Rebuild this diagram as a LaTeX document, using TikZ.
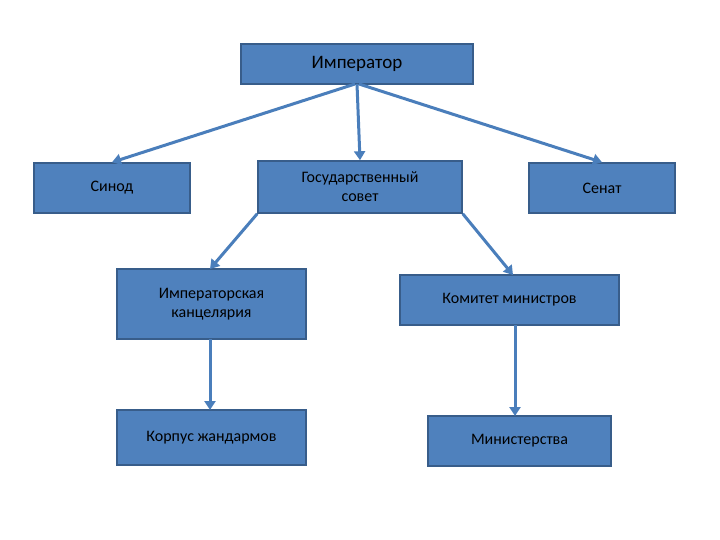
\documentclass[tikz,border=0pt]{standalone}
\usepackage{fontspec}
\setmainfont{Carlito}
\usetikzlibrary{arrows.meta}
\definecolor{bx}{HTML}{4F81BD}
\definecolor{ar}{HTML}{4A7EBB}
\definecolor{bd}{RGB}{56,93,138}
\begin{document}
\begin{tikzpicture}[x=1pt,y=-1pt,
  box/.style={draw=bd,fill=bx,line width=1.5pt,inner sep=0pt,align=center,font=\fontsize{16}{19}\selectfont},
  arr/.style={draw=ar,line width=3pt,-{Triangle[length=9pt,width=11pt]}}]
\useasboundingbox (0,0) rectangle (720,540);
\node[box,minimum width=232pt,minimum height=40pt,font=\fontsize{19}{22}\selectfont] (imp) at (357,64) {Император};
\node[box,minimum width=156pt,minimum height=50pt] (sin) at (112,188) {Синод};
\node[box,minimum width=204pt,minimum height=52pt] (gos) at (360,187) {Государственный\\совет};
\node[box,minimum width=146pt,minimum height=50pt] (sen) at (602,188) {Сенат};
\node[box,minimum width=189pt,minimum height=70pt] (kan) at (211.5,304) {Императорская\\канцелярия};
\node[box,minimum width=219pt,minimum height=50pt] (kom) at (509.5,300) {Комитет министров};
\node[box,minimum width=189pt,minimum height=55pt] (kor) at (211.5,437.5) {Корпус жандармов};
\node[box,minimum width=183pt,minimum height=50pt] (min) at (519.5,441) {Министерства};
\coordinate (o1) at (355,84);
\coordinate (o2) at (357,84);
\coordinate (o3) at (359,84);
\coordinate (kanT) at (210,269);
\coordinate (kanB) at (210,339);
\coordinate (korT) at (210,410);
\coordinate (komT) at (513,275);
\coordinate (komB) at (515,325);
\coordinate (minT) at (515,416);
\draw[arr] (o1) -- (sin.north);
\draw[arr] (o2) -- (gos.north);
\draw[arr] (o3) -- (sen.north);
\draw[arr] (gos.south west) -- (kanT);
\draw[arr] (gos.south east) -- (komT);
\draw[arr] (kanB) -- (korT);
\draw[arr] (komB) -- (minT);
\end{tikzpicture}
\end{document}
